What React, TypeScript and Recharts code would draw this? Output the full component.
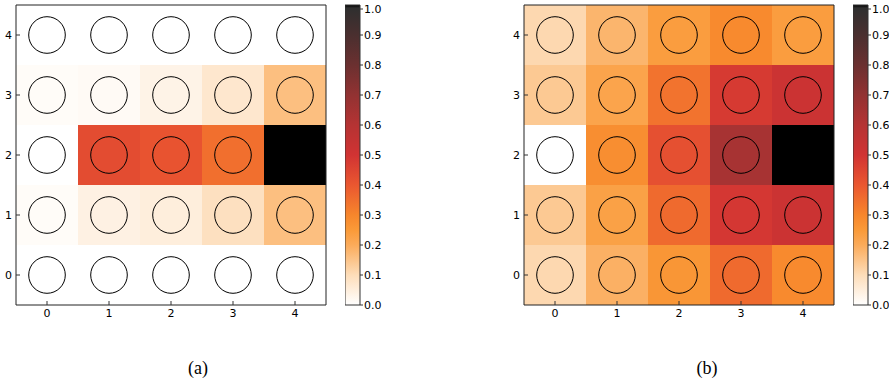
import { ComposedChart, XAxis, YAxis, Scatter, ReferenceArea } from "recharts";

const X_CATS = [0, 1, 2, 3, 4];
const Y_CATS = [0, 1, 2, 3, 4];
const CBAR_TICKS = [0, 0.1, 0.2, 0.3, 0.4, 0.5, 0.6, 0.7, 0.8, 0.9, 1.0];

// grid[y][x], y = 0 is the bottom row
const GRID_A = [
  [0, 0, 0, 0, 0],
  [0.01, 0.04, 0.05, 0.09, 0.16],
  [0, 0.43, 0.41, 0.35, 1.0],
  [0.01, 0.015, 0.035, 0.07, 0.16],
  [0, 0, 0, 0, 0],
];

const GRID_B = [
  [0.11, 0.19, 0.26, 0.36, 0.29],
  [0.14, 0.23, 0.36, 0.49, 0.52],
  [0, 0.28, 0.42, 0.64, 1.0],
  [0.14, 0.22, 0.34, 0.48, 0.52],
  [0.11, 0.18, 0.24, 0.29, 0.24],
];

// colour map stops (value -> colour)
const CMAP_POS = [0, 0.1, 0.2, 0.25, 0.3, 0.4, 0.5, 0.6, 0.7, 0.8, 0.9, 0.99, 1.0];
const CMAP_COL = [
  "#ffffff", "#fdddb9", "#fbab5a", "#fa9a38", "#f7862c", "#ea5730",
  "#d13333", "#b53333", "#923232", "#6b3030", "#4a2f2f", "#2f2f2f", "#000000",
];

function hexToRgb(h: string) {
  return [1, 3, 5].map((i) => parseInt(h.slice(i, i + 2), 16));
}

function colorFor(v: number) {
  if (v <= 0) return CMAP_COL[0];
  if (v >= 1) return CMAP_COL[CMAP_COL.length - 1];
  let i = 0;
  while (CMAP_POS[i + 1] < v) i++;
  const t = (v - CMAP_POS[i]) / (CMAP_POS[i + 1] - CMAP_POS[i]);
  const a = hexToRgb(CMAP_COL[i]);
  const b = hexToRgb(CMAP_COL[i + 1]);
  const c = a.map((x, k) => Math.round(x + (b[k] - x) * t));
  return `rgb(${c[0]},${c[1]},${c[2]})`;
}

const TICK_FONT = "'DejaVu Sans', sans-serif";

const LeftTick = (p: any) => (
  <g>
    <line x1={p.x} x2={p.x + 4} y1={p.y} y2={p.y} stroke="#333" />
    <text x={p.x - 4} y={p.y + 4} textAnchor="end" fontSize={11} fill="#000" fontFamily={TICK_FONT}>
      {p.payload.value}
    </text>
  </g>
);
const RightTick = (p: any) => <line x1={p.x - 4} x2={p.x} y1={p.y} y2={p.y} stroke="#333" />;
const BottomTick = (p: any) => (
  <g>
    <line x1={p.x} x2={p.x} y1={p.y - 4} y2={p.y} stroke="#333" />
    <text x={p.x} y={p.y + 12} textAnchor="middle" fontSize={11} fill="#000" fontFamily={TICK_FONT}>
      {p.payload.value}
    </text>
  </g>
);
const TopTick = (p: any) => <line x1={p.x} x2={p.x} y1={p.y} y2={p.y + 4} stroke="#333" />;
const CbarTick = (p: any) => (
  <g>
    <line x1={p.x} x2={p.x + 3} y1={p.y} y2={p.y} stroke="#333" />
    <text x={p.x + 4} y={p.y + 4} textAnchor="start" fontSize={11} fill="#000" fontFamily={TICK_FONT}>
      {Number(p.payload.value).toFixed(1)}
    </text>
  </g>
);

function Heatmap({ grid, left }: { grid: number[][]; left: number }) {
  const cells = Y_CATS.flatMap((y) => X_CATS.map((x) => ({ x, y, v: grid[y][x] })));
  return (
    <div style={{ position: "absolute", left, top: 0 }}>
      <ComposedChart width={340} height={330} data={cells} margin={{ top: 5, right: 14, bottom: 0, left: 0 }}>
        <XAxis dataKey="x" type="number" domain={[-0.5, 4.5]} ticks={X_CATS} height={25}
          tickSize={0} tickMargin={0} axisLine={false} tickLine={false} tick={BottomTick} allowDataOverflow />
        <XAxis xAxisId="top" orientation="top" type="number" domain={[-0.5, 4.5]} ticks={X_CATS} height={0}
          tickSize={0} tickMargin={0} axisLine={false} tickLine={false} tick={TopTick} allowDataOverflow />
        <YAxis dataKey="y" type="number" domain={[-0.5, 4.5]} ticks={Y_CATS} width={16}
          tickSize={0} tickMargin={0} axisLine={false} tickLine={false} tick={LeftTick} allowDataOverflow />
        <YAxis yAxisId="right" orientation="right" type="number" domain={[-0.5, 4.5]} ticks={Y_CATS} width={0}
          tickSize={0} tickMargin={0} axisLine={false} tickLine={false} tick={RightTick} allowDataOverflow />
        {cells.map((c) => (
          <ReferenceArea key={`cell-${c.x}-${c.y}`} x1={c.x - 0.5} x2={c.x + 0.5} y1={c.y - 0.5} y2={c.y + 0.5}
            fill={colorFor(c.v)} fillOpacity={1} stroke="none" shapeRendering="crispEdges" />
        ))}
        <Scatter dataKey="y" isAnimationActive={false}
          shape={(p: any) => <circle cx={p.cx} cy={p.cy} r={18.3} fill="none" stroke="#000" strokeWidth={1} />} />
        <ReferenceArea x1={-0.5} x2={4.5} y1={-0.5} y2={4.5} fill="none" fillOpacity={0} stroke="#222" strokeWidth={1} />
      </ComposedChart>
    </div>
  );
}

function Colorbar({ id, left }: { id: string; left: number }) {
  const data = CBAR_TICKS.map((v) => ({ x: 0.5, v }));
  return (
    <div style={{ position: "absolute", left, top: 0 }}>
      <ComposedChart width={60} height={330} data={data} margin={{ top: 5, right: 0, bottom: 25, left: 0 }}>
        <XAxis dataKey="x" type="number" domain={[0, 1]} hide />
        <YAxis dataKey="v" orientation="right" type="number" domain={[0, 1]} ticks={CBAR_TICKS} width={45}
          tickSize={0} tickMargin={0} axisLine={false} tickLine={false} tick={CbarTick} />
        <Scatter dataKey="v" isAnimationActive={false} shape={() => <g />} />
        <ReferenceArea x1={0} x2={1} y1={0} y2={1} fill={`url(#${id})`} fillOpacity={1} stroke="#333" strokeWidth={1} />
      </ComposedChart>
    </div>
  );
}

function Gradients() {
  return (
    <svg width={0} height={0} style={{ position: "absolute" }}>
      <defs>
        {["cbar-a", "cbar-b"].map((id) => (
          <linearGradient key={id} id={id} x1="0" y1="1" x2="0" y2="0">
            {CMAP_POS.map((p, i) => (
              <stop key={i} offset={`${p * 100}%`} stopColor={CMAP_COL[i]} />
            ))}
          </linearGradient>
        ))}
      </defs>
    </svg>
  );
}

const captionStyle = {
  position: "absolute" as const,
  top: 358,
  width: 60,
  textAlign: "center" as const,
  fontFamily: "'Liberation Serif', 'Times New Roman', serif",
  fontSize: 18,
};

export default function App() {
  return (
    <div style={{ position: "absolute", left: 0, top: 0, width: 889, height: 385, background: "#fff" }}>
      <Gradients />
      <Heatmap grid={GRID_A} left={0} />
      <Colorbar id="cbar-a" left={345} />
      <Heatmap grid={GRID_B} left={508} />
      <Colorbar id="cbar-b" left={853} />
      <div style={{ ...captionStyle, left: 168 }}>(a)</div>
      <div style={{ ...captionStyle, left: 677 }}>(b)</div>
    </div>
  );
}
